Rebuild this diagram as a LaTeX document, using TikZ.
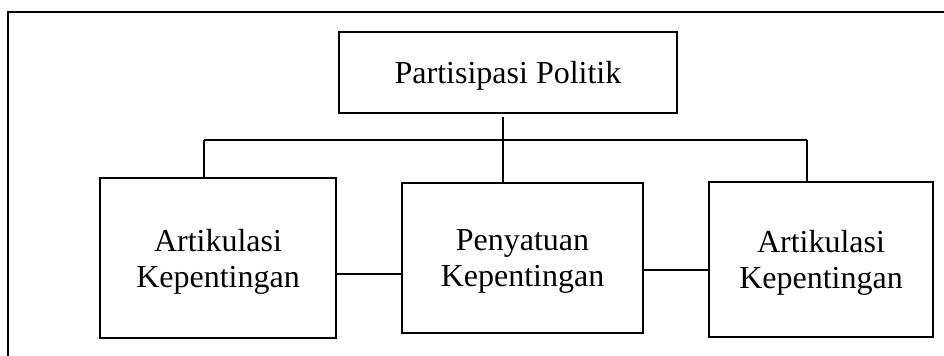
\documentclass[tikz,border=0pt]{standalone}
\usepackage{fontspec}
\setmainfont{Liberation Serif}
\begin{document}
\begin{tikzpicture}[x=0.5pt,y=-0.5pt,
  box/.style={draw, line width=1.2pt, rectangle, align=center, inner sep=0pt,
    text depth=0pt, font=\fontsize{16}{18}\selectfont},
  conn/.style={draw, line width=0.55pt},
  frame/.style={draw, line width=1.2pt}]
\useasboundingbox (0,0) rectangle (944,356);
\draw[frame] (8,360) -- (8,12) -- (950,12);
\node[box, minimum width=169pt, minimum height=40.5pt] (top) at (508,72.5) {Partisipasi Politik};
\node[box, minimum width=118pt, minimum height=80pt] (left) at (218,258) {Artikulasi\\Kepentingan};
\node[box, minimum width=120.5pt, minimum height=75pt] (mid) at (522.5,258) {Penyatuan\\Kepentingan};
\node[box, minimum width=112pt, minimum height=77.5pt] (right) at (821,259.5) {Artikulasi\\Kepentingan};
\coordinate (tc) at (503,117);
\coordinate (bl) at (204,140);
\coordinate (br) at (807,140);
\coordinate (h1) at (0,274);
\coordinate (h2) at (0,270);
\draw[conn] (tc) -- (tc |- mid.north);
\draw[conn] (bl) -- (br);
\draw[conn] (bl) -- (bl |- left.north);
\draw[conn] (br) -- (br |- right.north);
\draw[conn] (left.east |- h1) -- (mid.west |- h1);
\draw[conn] (mid.east |- h2) -- (right.west |- h2);
\end{tikzpicture}
\end{document}
